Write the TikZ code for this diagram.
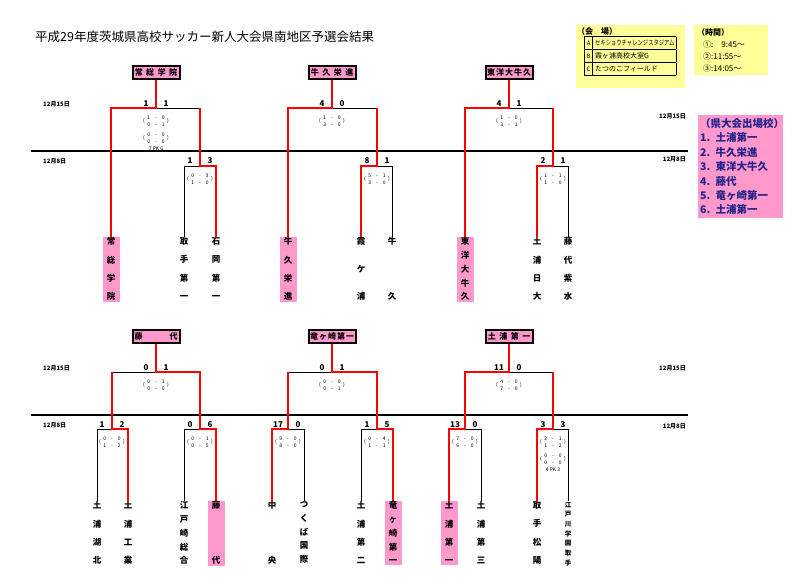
\documentclass[tikz,border=0pt]{standalone}
\usepackage{fontspec}
\setmainfont{Noto Sans CJK JP}
\usepackage{graphicx}
\usetikzlibrary{positioning}
\definecolor{hlpink}{HTML}{FF99CC}
\definecolor{memo}{HTML}{FFFF99}
\definecolor{navy}{HTML}{22228A}
\newcommand{\halves}[4]{(\hspace{2.5pt}\begin{tabular}{@{}c@{\hspace{5pt}-\hspace{5pt}}c@{}}#1&#2\\#3&#4\end{tabular}\hspace{2.5pt})}

\begin{document}
\begin{tikzpicture}[x=1pt, y=-1pt,
		win/.style={draw=red, line width=2.4pt},
		lose/.style={draw=black, line width=0.9pt},
		sepline/.style={draw=black, line width=1.1pt},
		champ/.style={draw, line width=2pt, fill=hlpink, minimum width=47pt, minimum height=13pt, inner sep=1pt, font=\fontsize{8}{8}\selectfont\bfseries},
		score/.style={inner sep=0pt, font=\fontsize{8}{8}\selectfont\bfseries},
		detail/.style={inner sep=0pt, font=\fontsize{5}{7.5}\selectfont},
		date/.style={inner sep=0pt, font=\fontsize{6}{6}\selectfont\bfseries},
		team/.style={anchor=north, align=center, inner xsep=0pt, inner ysep=1pt, minimum width=17pt, font=\fontsize{8.5}{#1}\selectfont\bfseries},
		hl/.style={fill=hlpink}]
		
		\useasboundingbox (0,0) rectangle (799,585);
		
		\node[anchor=west, inner sep=0pt, font=\fontsize{12.5}{12.5}\selectfont] (title) at (35,37) {平成29年度茨城県高校サッカー新人大会県南地区予選会結果};
		
		% venues and times
		\node[fill=memo, anchor=north west, minimum width=109pt, minimum height=63pt, inner sep=0pt] (venuebox) at (576,25) {};
		\node[anchor=west, inner sep=0pt, font=\fontsize{8}{8}\selectfont\bfseries] (venuehead) at (577,31) {（会\hspace{8pt}場）};
		\node[anchor=north west, inner sep=0pt, font=\fontsize{7}{12}\selectfont] (venues) at (584,36) {\setlength{\arrayrulewidth}{0.9pt}\begin{tabular}{|@{}c@{}|@{\hspace{2pt}}p{81pt}@{}|}\hline
				\makebox[8pt]{\fontsize{6}{12}\selectfont A} & \scalebox{0.76}[1]{セキショウチャレンジスタジアム}\\\hline
				\makebox[8pt]{\fontsize{6}{12}\selectfont B} & 霞ヶ浦高校大室G\\\hline
				\makebox[8pt]{\fontsize{6}{12}\selectfont C} & たつのこフィールド\\\hline
			\end{tabular}};
		\node[fill=memo, anchor=north west, minimum width=74pt, minimum height=48pt, text width=68pt, inner xsep=3pt, align=left, font=\fontsize{8}{12}\selectfont] (times) at (694,25) {\textbf{（時間）}\\\hspace{6pt}①:\hspace{8pt}9:45～\\\hspace{6pt}②:11:55～\\\hspace{6pt}③:14:05～};
		\node[fill=hlpink, text=navy, anchor=north west, minimum width=85pt, minimum height=101pt, text width=81pt, inner xsep=2pt, align=left, font=\fontsize{10.5}{14.4}\selectfont\bfseries] (qual) at (698,115) {（県大会出場校）\\1. 土浦第一\\2. 牛久栄進\\3. 東洋大牛久\\4. 藤代\\5. 竜ヶ崎第一\\6. 土浦第一};
		
		% round lines and dates
		\coordinate (sepA1) at (31,151);
		\coordinate (sepA2) at (688,151);
		\coordinate (sepB1) at (31,415);
		\coordinate (sepB2) at (688,415);
		\draw[sepline] (sepA1) -- (sepA2);
		\draw[sepline] (sepB1) -- (sepB2);
		\node[date, anchor=west] (dA1) at (43,104) {12月15日};
		\node[date, anchor=west] (dA2) at (43,161) {12月8日};
		\node[date, anchor=east] (dA3) at (686,116) {12月15日};
		\node[date, anchor=east] (dA4) at (686,159) {12月8日};
		\node[date, anchor=west] (dB1) at (43,368) {12月15日};
		\node[date, anchor=west] (dB2) at (43,425) {12月8日};
		\node[date, anchor=east] (dB3) at (686,368) {12月15日};
		\node[date, anchor=east] (dB4) at (686,426) {12月8日};
		
		% winners
		\node[champ] (bx1) at (156,72.5) {常\hspace{3.5pt}総\hspace{3.5pt}学\hspace{3.5pt}院};
		\node[champ] (bx2) at (332,72.5) {牛\hspace{3.5pt}久\hspace{3.5pt}栄\hspace{3.5pt}進};
		\node[champ] (bx3) at (509,72.5) {東\hspace{1pt}洋\hspace{1pt}大\hspace{1pt}牛\hspace{1pt}久};
		\node[champ] (bx4) at (156,336.5) {藤\hspace{27pt}代};
		\node[champ] (bx5) at (332,336.5) {竜\hspace{1pt}ヶ\hspace{1pt}崎\hspace{1pt}第\hspace{1pt}一};
		\node[champ] (bx6) at (509,336.5) {土\hspace{3.5pt}浦\hspace{3.5pt}第\hspace{3.5pt}一};
		
		% teams
		\node[team=18.3, hl] (t1) at (111,236.5) {常\\総\\学\\院};
		\node[team=18.3] (t2) at (184,236.5) {取\\手\\第\\一};
		\node[team=18.3] (t3) at (216,236.5) {石\\岡\\第\\一};
		\node[team=18.3, hl] (t4) at (288,236.5) {牛\\久\\栄\\進};
		\node[team=27.5] (t5) at (361,236.5) {霞\\ケ\\浦};
		\node[team=55] (t6) at (392,236.5) {牛\\久};
		\node[team=13.75, hl] (t7) at (465,236.5) {東\\洋\\大\\牛\\久};
		\node[team=18.3] (t8) at (537,236.5) {土\\浦\\日\\大};
		\node[team=18.3] (t9) at (568,236.5) {藤\\代\\紫\\水};
		\node[team=18.3] (u1) at (97,500.5) {土\\浦\\湖\\北};
		\node[team=18.3] (u2) at (128,500.5) {土\\浦\\工\\業};
		\node[team=13.75] (u3) at (184,500.5) {江\\戸\\崎\\総\\合};
		\node[team=55, hl] (u4) at (216,500.5) {藤\\代};
		\node[team=55] (u5) at (272,500.5) {中\\央};
		\node[team=13.75] (u6) at (304,500.5) {つ\\く\\ば\\国\\際};
		\node[team=18.3] (u7) at (361,500.5) {土\\浦\\第\\二};
		\node[team=13.75, hl] (u8) at (393,500.5) {竜\\ヶ\\崎\\第\\一};
		\node[team=18.3, hl] (u9) at (449,500.5) {土\\浦\\第\\一};
		\node[team=18.3] (u10) at (481,500.5) {土\\浦\\第\\三};
		\node[team=18.3] (u11) at (537,500.5) {取\\手\\松\\陽};
		\node[team=9.67, font=\fontsize{6.5}{9.67}\selectfont\bfseries] (u12) at (568,500.5) {江\\戸\\川\\学\\園\\取\\手};
		
		% junctions
		\coordinate (g1m) at (156,108);
		\coordinate (g1l) at (111,108);
		\coordinate (g1r) at (200,108);
		\coordinate (g1rm) at (200,166);
		\coordinate (g1rl) at (184,166);
		\coordinate (g1rr) at (216,166);
		\coordinate (g2m) at (332,108);
		\coordinate (g2l) at (288,108);
		\coordinate (g2r) at (377,108);
		\coordinate (g2rm) at (377,166);
		\coordinate (g2rl) at (361,166);
		\coordinate (g2rr) at (392,166);
		\coordinate (g3m) at (509,108);
		\coordinate (g3l) at (465,108);
		\coordinate (g3r) at (553,108);
		\coordinate (g3rm) at (553,166);
		\coordinate (g3rl) at (537,166);
		\coordinate (g3rr) at (568,166);
		\coordinate (g4m) at (156,372);
		\coordinate (g4l) at (112,372);
		\coordinate (g4r) at (200,372);
		\coordinate (g4lm) at (112,429);
		\coordinate (g4ll) at (97,429);
		\coordinate (g4lr) at (128,429);
		\coordinate (g4rm) at (200,429);
		\coordinate (g4rl) at (184,429);
		\coordinate (g4rr) at (216,429);
		\coordinate (g5m) at (332,372);
		\coordinate (g5l) at (288,372);
		\coordinate (g5r) at (377,372);
		\coordinate (g5lm) at (288,429);
		\coordinate (g5ll) at (272,429);
		\coordinate (g5lr) at (304,429);
		\coordinate (g5rm) at (377,429);
		\coordinate (g5rl) at (361,429);
		\coordinate (g5rr) at (393,429);
		\coordinate (g6m) at (509,372);
		\coordinate (g6l) at (465,372);
		\coordinate (g6r) at (553,372);
		\coordinate (g6lm) at (465,429);
		\coordinate (g6ll) at (449,429);
		\coordinate (g6lr) at (481,429);
		\coordinate (g6rm) at (553,429);
		\coordinate (g6rl) at (537,429);
		\coordinate (g6rr) at (568,429);
		
		% brackets
		\draw[lose] (g1m) -- (g1r);
		\draw[lose] (g1rm) -- (g1rl) -- (t2);
		\draw[win] (bx1) -- (g1m) -- (g1l) -- (t1);
		\draw[win] (g1r) -- (g1rm) -- (g1rr) -- (t3);
		
		\draw[lose] (g2m) -- (g2r);
		\draw[lose] (g2rm) -- (g2rr) -- (t6);
		\draw[win] (bx2) -- (g2m) -- (g2l) -- (t4);
		\draw[win] (g2r) -- (g2rm) -- (g2rl) -- (t5);
		
		\draw[lose] (g3m) -- (g3r);
		\draw[lose] (g3rm) -- (g3rr) -- (t9);
		\draw[win] (bx3) -- (g3m) -- (g3l) -- (t7);
		\draw[win] (g3r) -- (g3rm) -- (g3rl) -- (t8);
		
		\draw[lose] (g4m) -- (g4l);
		\draw[lose] (g4lm) -- (g4ll) -- (u1);
		\draw[lose] (g4rm) -- (g4rl) -- (u3);
		\draw[win] (g4l) -- (g4lm) -- (g4lr) -- (u2);
		\draw[win] (bx4) -- (g4m) -- (g4r) -- (g4rm) -- (g4rr) -- (u4);
		
		\draw[lose] (g5m) -- (g5l);
		\draw[lose] (g5lm) -- (g5lr) -- (u6);
		\draw[lose] (g5rm) -- (g5rl) -- (u7);
		\draw[win] (g5l) -- (g5lm) -- (g5ll) -- (u5);
		\draw[win] (bx5) -- (g5m) -- (g5r) -- (g5rm) -- (g5rr) -- (u8);
		
		\draw[lose] (g6m) -- (g6r);
		\draw[lose] (g6lm) -- (g6lr) -- (u10);
		\draw[lose] (g6rm) -- (g6rr) -- (u12);
		\draw[win] (bx6) -- (g6m) -- (g6l) -- (g6lm) -- (g6ll) -- (u9);
		\draw[win] (g6r) -- (g6rm) -- (g6rl) -- (u11);
		
		% scores
		\node[score] (s1a) at (146,104) {1};
		\node[score] (s1b) at (166,104) {1};
		\node[score] (s1c) at (190,161) {1};
		\node[score] (s1d) at (210,161) {3};
		\node[score] (s2a) at (322,104) {4};
		\node[score] (s2b) at (342,104) {0};
		\node[score] (s2c) at (367,161) {8};
		\node[score] (s2d) at (387,161) {1};
		\node[score] (s3a) at (499,104) {4};
		\node[score] (s3b) at (519,104) {1};
		\node[score] (s3c) at (543,161) {2};
		\node[score] (s3d) at (563,161) {1};
		\node[score] (s4a) at (146,368) {0};
		\node[score] (s4b) at (166,368) {1};
		\node[score] (s4c) at (102,425) {1};
		\node[score] (s4d) at (122,425) {2};
		\node[score] (s4e) at (190,425) {0};
		\node[score] (s4f) at (210,425) {6};
		\node[score] (s5a) at (322,368) {0};
		\node[score] (s5b) at (342,368) {1};
		\node[score] (s5c) at (278,425) {17};
		\node[score] (s5d) at (298,425) {0};
		\node[score] (s5e) at (367,425) {1};
		\node[score] (s5f) at (387,425) {5};
		\node[score] (s6a) at (499,368) {11};
		\node[score] (s6b) at (519,368) {0};
		\node[score] (s6c) at (455,425) {13};
		\node[score] (s6d) at (475,425) {0};
		\node[score] (s6e) at (543,425) {3};
		\node[score] (s6f) at (563,425) {3};
		
		% half scores
		\node[detail, below=6pt of g1m] (h1a) {\halves{1}{0}{0}{1}};
		\node[detail, below=1.5pt of h1a] (h1b) {\halves{0}{0}{0}{0}};
		\node[detail, below=0.5pt of h1b] (pk1) {7 PK 6};
		\node[detail, below=6pt of g1rm] (h1c) {\halves{0}{3}{1}{0}};
		\node[detail, below=6pt of g2m] (h2a) {\halves{1}{0}{3}{0}};
		\node[detail, below=6pt of g2rm] (h2c) {\halves{5}{1}{3}{0}};
		\node[detail, below=6pt of g3m] (h3a) {\halves{1}{0}{3}{1}};
		\node[detail, below=6pt of g3rm] (h3c) {\halves{1}{1}{1}{0}};
		\node[detail, below=6pt of g4m] (h4a) {\halves{0}{1}{0}{0}};
		\node[detail, below=6pt of g4lm] (h4b) {\halves{0}{0}{1}{2}};
		\node[detail, below=6pt of g4rm] (h4c) {\halves{0}{1}{0}{5}};
		\node[detail, below=6pt of g5m] (h5a) {\halves{0}{0}{0}{1}};
		\node[detail, below=6pt of g5lm] (h5b) {\halves{9}{0}{8}{0}};
		\node[detail, below=6pt of g5rm] (h5c) {\halves{0}{4}{1}{1}};
		\node[detail, below=6pt of g6m] (h6a) {\halves{4}{0}{7}{0}};
		\node[detail, below=6pt of g6lm] (h6b) {\halves{7}{0}{6}{0}};
		\node[detail, below=6pt of g6rm] (h6c) {\halves{2}{1}{1}{2}};
		\node[detail, below=1.5pt of h6c] (h6d) {\halves{0}{0}{0}{0}};
		\node[detail, below=0.5pt of h6d] (pk6) {4 PK 3};
		
	\end{tikzpicture}
\end{document}
